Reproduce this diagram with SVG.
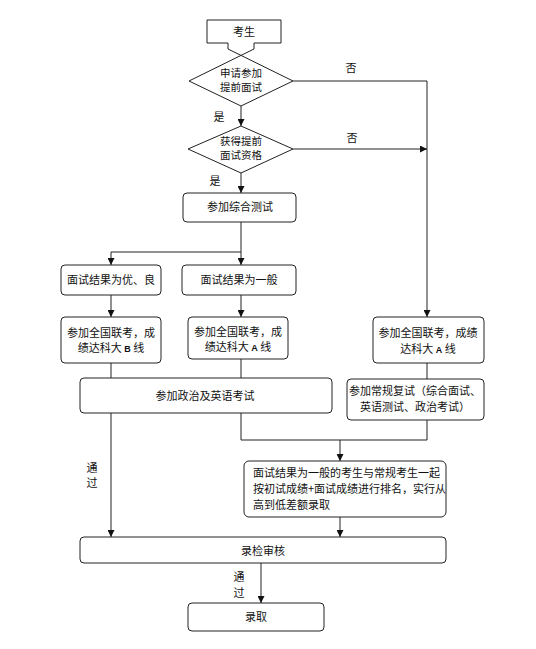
<svg xmlns="http://www.w3.org/2000/svg" width="536" height="649" viewBox="0 0 536 649">
<style>
.s{fill:none;stroke:#222;stroke-width:1}
.b{fill:#fff;stroke:#222;stroke-width:1}
.t{font-family:"Noto Sans CJK SC","Noto Sans",sans-serif;font-size:11px;fill:#111;text-anchor:middle}
.d{font-size:10.5px}
.l{text-anchor:start}
.e{font-family:"Liberation Sans",sans-serif;font-weight:bold;font-size:9px}
</style>
<defs>
<marker id="a" markerWidth="7" markerHeight="7" refX="7" refY="3.5" orient="auto" markerUnits="userSpaceOnUse">
<path d="M0,0 L7,3.5 L0,7 Z" fill="#111"/>
</marker>
</defs>
<rect width="536" height="649" fill="#fff"/>
<g id="connectors" class="s">
<path d="M293,81 H427 V317" marker-end="url(#a)"/>
<path d="M241,106 V126" marker-end="url(#a)"/>
<path d="M293,149 H427" marker-end="url(#a)"/>
<path d="M241,173 V193" marker-end="url(#a)"/>
<path d="M241,222 V252 H111 V265" marker-end="url(#a)"/>
<path d="M241,252 V265" marker-end="url(#a)"/>
<path d="M111,295 V317" marker-end="url(#a)"/>
<path d="M241,295 V317" marker-end="url(#a)"/>
<path d="M111,363 V537" marker-end="url(#a)"/>
<path d="M241,359 V440 H427 V420"/>
<path d="M340,440 V461" marker-end="url(#a)"/>
<path d="M340,517 V537" marker-end="url(#a)"/>
<path d="M261,563 V603" marker-end="url(#a)"/>
<path d="M427,363 V379"/>
</g>
<g id="n_start">
<path class="s" d="M228,49 V43 H207 V20 H281 V43 H254 V49"/>
<text class="t" x="244" y="36">考生</text>
</g>
<g id="n_d1">
<path class="b" d="M254,49 L189,81 L241,106 L293,81 L228,49"/>
<text class="t d" x="241" y="77">申请参加</text>
<text class="t d" x="241" y="91">提前面试</text>
</g>
<g id="n_d2">
<path class="b" d="M241,126 L293,149 L241,173 L188,149 Z"/>
<text class="t d" x="241" y="145">获得提前</text>
<text class="t d" x="241" y="159">面试资格</text>
</g>
<g id="labels" class="t">
<text x="351" y="72">否</text>
<text x="352" y="142">否</text>
<text x="219" y="121">是</text>
<text x="215" y="185">是</text>
<text x="92" y="472">通</text>
<text x="92" y="487">过</text>
<text x="239" y="581">通</text>
<text x="239" y="597">过</text>
</g>
<g id="n_test">
<rect class="b" x="183" y="193" width="113" height="29" rx="4"/>
<text class="t" x="240" y="211">参加综合测试</text>
</g>
<g id="n_good">
<rect class="b" x="61" y="265" width="100" height="30" rx="4"/>
<text class="t" x="111" y="284">面试结果为优、良</text>
</g>
<g id="n_avg">
<rect class="b" x="182" y="265" width="114" height="30" rx="4"/>
<text class="t" x="239" y="284">面试结果为一般</text>
</g>
<g id="n_b">
<rect class="b" x="61" y="317" width="100" height="46" rx="4"/>
<text class="t" x="111" y="337">参加全国联考，成</text>
<text class="t" x="111" y="352">绩达科大 <tspan class="e">B</tspan> 线</text>
</g>
<g id="n_a">
<rect class="b" x="188" y="317" width="100" height="42" rx="4"/>
<text class="t" x="238" y="336">参加全国联考，成</text>
<text class="t" x="238" y="351">绩达科大 <tspan class="e">A</tspan> 线</text>
</g>
<g id="n_pol">
<rect class="b" x="80" y="378" width="252" height="35" rx="4"/>
<text class="t" x="205" y="400">参加政治及英语考试</text>
</g>
<g id="n_a2">
<rect class="b" x="373" y="317" width="111" height="46" rx="4"/>
<text class="t" x="428" y="337">参加全国联考，成绩</text>
<text class="t" x="428" y="353">达科大 <tspan class="e">A</tspan> 线</text>
</g>
<g id="n_reg">
<rect class="b" x="347" y="379" width="137" height="41" rx="4"/>
<text class="t" x="415" y="395">参加常规复试（综合面试、</text>
<text class="t" x="415" y="411">英语测试、政治考试）</text>
</g>
<g id="n_rank">
<rect class="b" x="244" y="461" width="202" height="56" rx="5"/>
<text class="t l" x="253" y="477">面试结果为一般的考生与常规考生一起</text>
<text class="t l" x="253" y="493">按初试成绩+面试成绩进行排名，实行从</text>
<text class="t l" x="253" y="509">高到低差额录取</text>
</g>
<g id="n_check">
<rect class="b" x="80" y="537" width="366" height="26" rx="4"/>
<text class="t" x="263" y="555">录检审核</text>
</g>
<g id="n_admit">
<rect class="b" x="188" y="603" width="136" height="28" rx="4"/>
<text class="t" x="256" y="621">录取</text>
</g>
</svg>
